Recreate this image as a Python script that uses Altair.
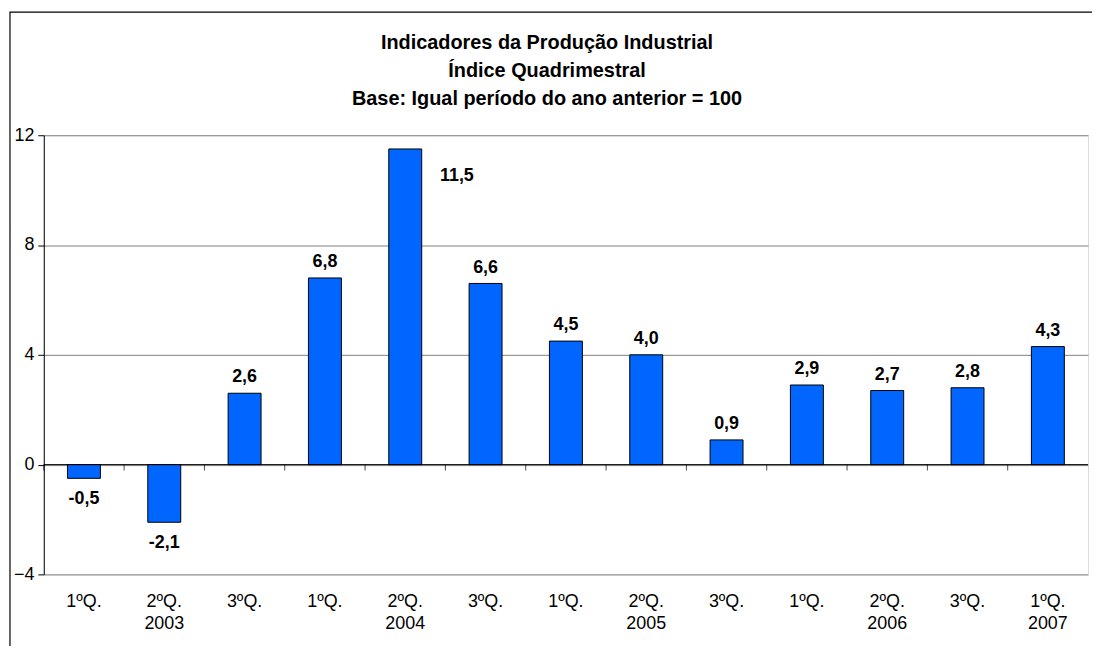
import json
import altair as alt
import pandas as pd

# ---- data ----
quarters = ["1ºQ.", "2ºQ.", "3ºQ.", "1ºQ.", "2ºQ.", "3ºQ.", "1ºQ.",
            "2ºQ.", "3ºQ.", "1ºQ.", "2ºQ.", "3ºQ.", "1ºQ."]
years = ["", "2003", "", "", "2004", "", "", "2005", "", "", "2006", "", "2007"]
values = [-0.5, -2.1, 2.6, 6.8, 11.5, 6.6, 4.5, 4.0, 0.9, 2.9, 2.7, 2.8, 4.3]
y_ticks = [-4, 0, 4, 8, 12]
title_lines = ["Indicadores da Produção Industrial",
               "Índice Quadrimestral",
               "Base: Igual período do ano anterior = 100"]

df = pd.DataFrame({
    "idx": list(range(len(values))),
    "value": values,
    "label": [f"{v:.1f}".replace(".", ",") for v in values],
})
label_lines = [[q, y] for q, y in zip(quarters, years)]
label_expr = json.dumps(label_lines, ensure_ascii=False) + "[datum.value]"

W, H = 1051, 442
FONT = "Liberation Sans"

x_enc = alt.X(
    "idx:O",
    scale=alt.Scale(paddingInner=0, paddingOuter=0),
    axis=alt.Axis(title=None, labelExpr=label_expr, domain=False, ticks=False,
                  labelAngle=0, labelFontSize=18, labelColor="black",
                  labelPadding=18, labelLineHeight=22, labelFont=FONT),
)
y_enc = alt.Y(
    "value:Q",
    scale=alt.Scale(domain=[-4, 12], nice=False, zero=False),
    axis=alt.Axis(title=None, values=y_ticks, grid=True, gridColor="#808080",
                  gridWidth=1, domainColor="black", tickColor="black",
                  tickSize=6, labelFontSize=18, labelPadding=4,
                  labelColor="black", labelFont=FONT),
)

base = alt.Chart(df)

frame = alt.Chart(pd.DataFrame({"a": [0]})).mark_rect(
    fillOpacity=0, stroke="black", strokeWidth=1.2
).encode(
    x=alt.value(-34), x2=alt.value(W + 60),
    y=alt.value(-124), y2=alt.value(H + 120),
)

bars = base.mark_bar(
    width={"band": 0.41}, color="#0066FF", stroke="black", strokeWidth=1
).encode(x=x_enc, y=y_enc)

zero_line = alt.Chart(pd.DataFrame({"a": [0]})).mark_rule(
    color="black", strokeWidth=1
).encode(y=alt.datum(0))

ticks = base.mark_tick(
    orient="vertical", size=6, thickness=1, color="black", yOffset=3
).encode(x=alt.X("idx:O", bandPosition=0), y=alt.datum(0))

text_style = dict(fontSize=18, fontWeight="bold", font=FONT, color="black")

pos_labels = base.transform_filter(
    "datum.value >= 0 && datum.value < 11"
).mark_text(baseline="bottom", dy=-7, **text_style).encode(
    x=x_enc, y=y_enc, text="label:N")

neg_labels = base.transform_filter("datum.value < 0").mark_text(
    baseline="top", dy=12, **text_style).encode(
    x=x_enc, y=y_enc, text="label:N")

max_label = base.transform_filter("datum.value >= 11").mark_text(
    baseline="middle", dx=52, dy=27, **text_style).encode(
    x=x_enc, y=y_enc, text="label:N")

chart = alt.layer(
    frame, bars, zero_line, ticks, pos_labels, neg_labels, max_label
).properties(
    width=W, height=H,
    padding={"left": 36, "top": 126, "right": 4, "bottom": 70},
    autosize=alt.AutoSizeParams(type="none"),
    title=alt.TitleParams(
        text=title_lines, fontSize=20, font=FONT, fontWeight="bold",
        lineHeight=28, anchor="middle", dx=-19, offset=-98, color="black"),
).configure_view(
    stroke="#808080", strokeWidth=1
).configure(background="white")

chart.save("out.html", embed_options={"renderer": "svg", "actions": False})
